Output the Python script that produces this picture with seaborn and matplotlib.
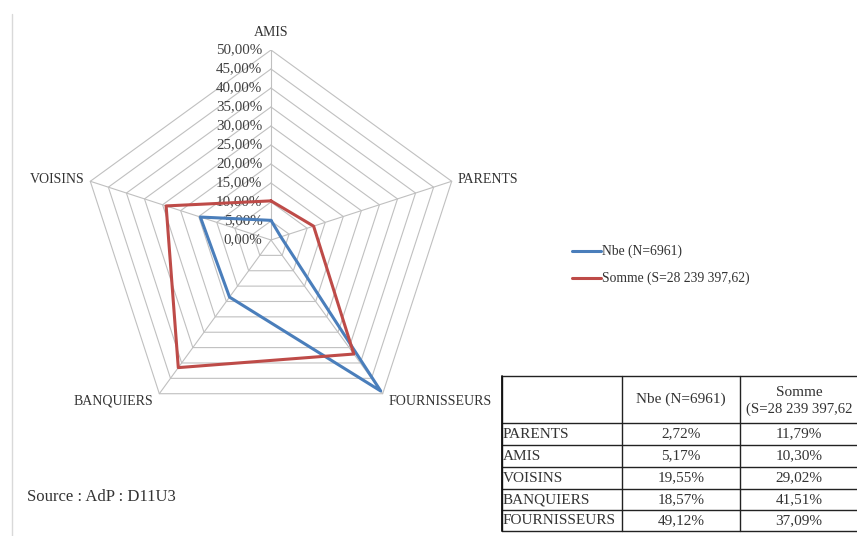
import numpy as np
import pandas as pd
import matplotlib
matplotlib.use("Agg")
import matplotlib.pyplot as plt
import seaborn as sns

# Données du graphique radar (en %)
categories = ['AMIS', 'PARENTS', 'FOURNISSEURS', 'BANQUIERS', 'VOISINS']
nbe = [5.17, 2.72, 49.12, 18.57, 19.55]
somme = [10.30, 11.79, 37.09, 41.51, 29.02]
series_names = ['Nbe (N=6961)', 'Somme (S=28 239 397,62)']
ticks = [0, 5, 10, 15, 20, 25, 30, 35, 40, 45, 50]

# Données du tableau (l'en-tête de la dernière colonne est coupé dans l'original)
table_rows = ['PARENTS', 'AMIS', 'VOISINS', 'BANQUIERS', 'FOURNISSEURS']
table_nbe = ['2,72%', '5,17%', '19,55%', '18,57%', '49,12%']
table_somme = ['11,79%', '10,30%', '29,02%', '41,51%', '37,09%']
table_header = ['', 'Nbe (N=6961)', 'Somme', '(S=28 239 397,62']

sns.set_style("white")
plt.rcParams['font.family'] = ['Liberation Serif', 'DejaVu Serif']
plt.rcParams['text.color'] = '#333333'

W, H = 857, 536
fig = plt.figure(figsize=(W / 100, H / 100), dpi=100)

# axes radar : centre (271, 240), rayon 190 px
cx, cy, R = 271, 240, 190
ax = fig.add_axes([(cx - R) / W, (H - cy - R) / H, 2 * R / W, 2 * R / H])
ax.set_xlim(-1, 1)
ax.set_ylim(-1, 1)
ax.axis('off')

n = len(categories)
angles = np.arange(n) * 2 * np.pi / n  # depuis le haut, sens horaire
rmax = ticks[-1]

def to_xy(vals):
    v = np.asarray(vals, dtype=float) / rmax
    return v * np.sin(angles), v * np.cos(angles)

# grille pentagonale
for t in ticks[1:]:
    gx, gy = to_xy([t] * n)
    ax.plot(np.append(gx, gx[0]), np.append(gy, gy[0]), color='#c0c0c0', lw=0.8, zorder=1)
sx, sy = to_xy([rmax] * n)
for i in range(n):
    ax.plot([0, sx[i]], [0, sy[i]], color='#c0c0c0', lw=0.8, zorder=1)

# séries
rows = []
for name, vals in zip(series_names, [nbe, somme]):
    px, py = to_xy(vals)
    for k in list(range(n)) + [0]:
        rows.append({'serie': name, 'x': px[k], 'y': py[k]})
df = pd.DataFrame(rows)
sns.lineplot(data=df, x='x', y='y', hue='serie', sort=False, estimator=None,
             palette=['#4a7ebb', '#be4b48'], lw=2.2, ax=ax, legend=False, zorder=3)
ax.set_xlabel('')
ax.set_ylabel('')

# étiquettes des graduations
for t in ticks:
    ax.text(-0.045, t / rmax, f'{t:.2f}'.replace('.', ',') + '%', ha='right', va='center',
            fontsize=10.8, color='#404040', zorder=2)

# étiquettes des catégories
fs = 10
ax.text(0, 1.09, categories[0], ha='center', va='center', fontsize=fs)
ax.text(sx[1] + 0.03, sy[1] + 0.01, categories[1], ha='left', va='center', fontsize=fs)
ax.text(sx[2] + 0.03, sy[2] - 0.04, categories[2], ha='left', va='center', fontsize=fs)
ax.text(sx[3] - 0.03, sy[3] - 0.04, categories[3], ha='right', va='center', fontsize=fs)
ax.text(sx[4] - 0.03, sy[4] + 0.01, categories[4], ha='right', va='center', fontsize=fs)

# couche en pixels pour légende, tableau, source
ov = fig.add_axes([0, 0, 1, 1], facecolor='none')
ov.set_xlim(0, W)
ov.set_ylim(H, 0)
ov.axis('off')

ov.plot([12.5, 12.5], [14, H], color='#d9d9d9', lw=1)

for i, (name, col) in enumerate(zip(series_names, ['#4a7ebb', '#be4b48'])):
    y = 251 + 27 * i
    ov.plot([572, 601], [y, y], color=col, lw=2.2)
    ov.text(602, y, name, ha='left', va='center', fontsize=9.8)

ov.text(27, 497, 'Source : AdP : D11U3', ha='left', va='center', fontsize=12)

# tableau
xs = [502, 622, 740, 880]
ys = [376, 423, 445, 467, 489, 510, 531]
for y in ys:
    ov.plot([xs[0], xs[-1]], [y, y], color='#222222', lw=1, clip_on=False)
for x in xs[:-1]:
    ov.plot([x, x], [ys[0], ys[-1]], color='#222222', lw=1)
ov.plot([xs[0], xs[0]], [ys[0], ys[-1]], color='#111111', lw=1.3)

tfs = 11
ov.text((xs[1] + xs[2]) / 2, (ys[0] + ys[1]) / 2, table_header[1], ha='center', va='center', fontsize=tfs)
ov.text(799, 392, table_header[2], ha='center', va='center', fontsize=tfs)
ov.text(746, 409, table_header[3], ha='left', va='center', fontsize=10.6)
for i, (lab, a, b) in enumerate(zip(table_rows, table_nbe, table_somme)):
    yc = (ys[i + 1] + ys[i + 2]) / 2
    ov.text(xs[0] + 1, yc, lab, ha='left', va='center', fontsize=tfs)
    ov.text((xs[1] + xs[2]) / 2, yc, a, ha='center', va='center', fontsize=tfs)
    ov.text(799, yc, b, ha='center', va='center', fontsize=tfs)

fig.savefig('out.png', dpi=100)
